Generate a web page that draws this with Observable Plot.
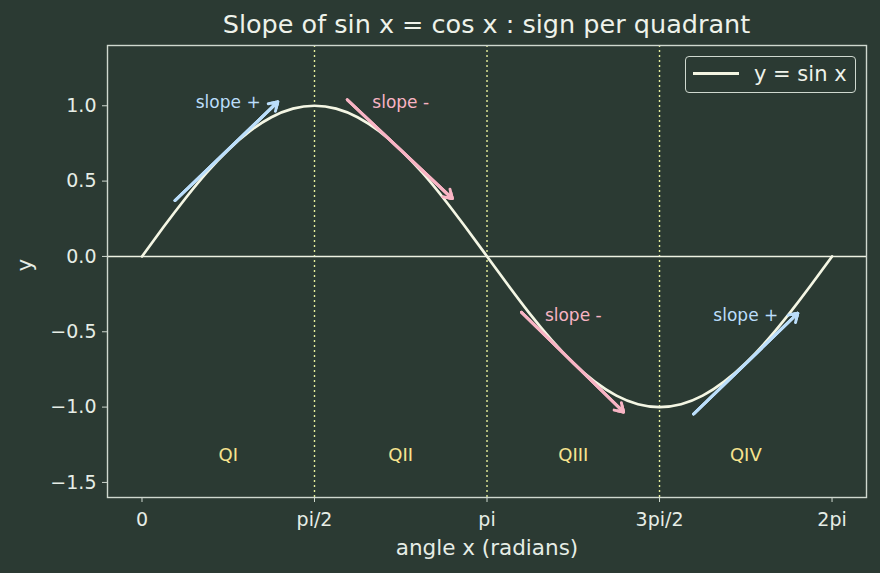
<!DOCTYPE html>
<html>
<head>
<meta charset="utf-8">
<script src="https://cdn.jsdelivr.net/npm/d3@7"></script>
<script src="https://cdn.jsdelivr.net/npm/@observablehq/plot@0.6"></script>
<style>
  html, body { margin: 0; padding: 0; background: #2b3a33; }
  #fig { position: relative; width: 880px; height: 573px; background: #2b3a33; font-family: "DejaVu Sans", sans-serif; overflow: hidden; }
  #title { position: absolute; left: 107px; width: 759px; top: 8px; text-align: center; font-size: 25.5px; color: #eef2ea; line-height: 32px; white-space: nowrap; }
  #chart { position: absolute; left: 0; top: 40px; }
  #legend { position: absolute; left: 685px; top: 56px; width: 171px; height: 37px; border: 1.4px solid #cfd8cf; border-radius: 4px; box-sizing: border-box; }
  #legend .sw { position: absolute; left: 7px; top: 15px; width: 46px; height: 3px; background: #f3f5e2; }
  #legend .tx { position: absolute; left: 68px; top: 2px; font-size: 21px; line-height: 30px; color: #eef2ea; white-space: nowrap; }
</style>
</head>
<body>
<div id="fig">
  <div id="title">Slope of sin x = cos x : sign per quadrant</div>
  <div id="chart"></div>
  <div id="legend"><div class="sw"></div><div class="tx">y = sin x</div></div>
</div>
<script>
// sin x sampled at multiples of pi/16
const xs = [0, 0.196, 0.393, 0.589, 0.785, 0.982, 1.178, 1.374, 1.571, 1.767, 1.963, 2.160, 2.356, 2.553, 2.749, 2.945, 3.142, 3.338, 3.534, 3.731, 3.927, 4.123, 4.320, 4.516, 4.712, 4.909, 5.105, 5.301, 5.498, 5.694, 5.890, 6.087, 6.283];
const ys = [0, 0.195, 0.383, 0.556, 0.707, 0.831, 0.924, 0.981, 1, 0.981, 0.924, 0.831, 0.707, 0.556, 0.383, 0.195, 0, -0.195, -0.383, -0.556, -0.707, -0.831, -0.924, -0.981, -1, -0.981, -0.924, -0.831, -0.707, -0.556, -0.383, -0.195, 0];

const xTickValues = [0, 1.5708, 3.1416, 4.7124, 6.2832];
const xTickLabels = ["0", "pi/2", "pi", "3pi/2", "2pi"];
const yTickValues = [-1.5, -1.0, -0.5, 0, 0.5, 1.0];
const quadBoundaries = [1.5708, 3.1416, 4.7124];

const quadNames = ["QI", "QII", "QIII", "QIV"];
const quadMid = [0.785, 2.356, 3.927, 5.498];
const quadLabelY = [-1.32, -1.32, -1.32, -1.32];

// tangent arrows (start and end)
const arrowX1 = [0.301, 1.869, 3.455, 5.023];
const arrowY1 = [0.371, 1.040, -0.371, -1.046];
const arrowX2 = [1.236, 2.826, 4.385, 5.971];
const arrowY2 = [1.026, 0.384, -1.033, -0.377];
const slopeText = ["slope +", "slope -", "slope -", "slope +"];
const slopeTextY = [1.02, 1.02, -0.39, -0.39];
const slopeSign = ["+", "-", "-", "+"];

const colors = {"+": "#bbdefb", "-": "#f8b4c4"};

const curve = xs.map((x, i) => ({x, y: ys[i]}));
const arrows = arrowX1.map((x1, i) => ({x1, y1: arrowY1[i], x2: arrowX2[i], y2: arrowY2[i], s: slopeSign[i]}));
const notes = quadMid.map((x, i) => ({x, y: slopeTextY[i], t: slopeText[i], s: slopeSign[i]}));
const quads = quadMid.map((x, i) => ({x, y: quadLabelY[i], t: quadNames[i]}));

const fmtY = d => d < 0 ? "\u2212" + Math.abs(d).toFixed(1) : d.toFixed(1);

const arrowOpts = (len) => ({x1: "x1", y1: "y1", x2: "x2", y2: "y2", stroke: d => colors[d.s], strokeWidth: 2.9, headLength: len, headAngle: 65, bend: 0, insetStart: 0, insetEnd: 0});

const chart = Plot.plot({
  width: 880,
  height: 533,
  marginTop: 5,
  marginBottom: 76,
  marginLeft: 107,
  marginRight: 14,
  style: {background: "transparent", color: "#e6ede6", fontFamily: "DejaVu Sans", fontSize: "19px"},
  x: {domain: [-0.314, 6.597]},
  y: {domain: [-1.6, 1.4]},
  marks: [
    Plot.ruleX(quadBoundaries, {stroke: "#e6ee9c", strokeWidth: 1.4, strokeDasharray: "1.9,3.1"}),
    Plot.ruleY([0], {stroke: "#eef2e2", strokeWidth: 1.4}),
    Plot.line(curve, {x: "x", y: "y", stroke: "#f4f6e4", strokeWidth: 2.7, curve: "natural"}),
    Plot.arrow(arrows, arrowOpts(5)),
    Plot.arrow(arrows, arrowOpts(3.2)),
    Plot.arrow(arrows, arrowOpts(1.6)),
    Plot.text(notes, {x: "x", y: "y", text: "t", fill: d => colors[d.s], fontSize: 17}),
    Plot.text(quads, {x: "x", y: "y", text: "t", fill: "#f7e38e", fontSize: 18}),
    Plot.frame({stroke: "#cfd8cf", strokeWidth: 1.4}),
    Plot.axisX({ticks: xTickValues, tickFormat: (d, i) => xTickLabels[i], tickSize: 5, tickPadding: 10, label: null, stroke: "#cfd8cf"}),
    Plot.axisY({ticks: yTickValues, tickFormat: fmtY, tickSize: 5, tickPadding: 6, label: null, stroke: "#cfd8cf"}),
    Plot.text(["angle x (radians)"], {frameAnchor: "bottom", dy: 51, fontSize: 21.5, fill: "#e6ede6", lineAnchor: "middle"}),
    Plot.text(["y"], {frameAnchor: "left", dx: -82, rotate: -90, fontSize: 21.5, fill: "#e6ede6", lineAnchor: "middle"})
  ]
});
document.getElementById("chart").appendChild(chart);
</script>
</body>
</html>
